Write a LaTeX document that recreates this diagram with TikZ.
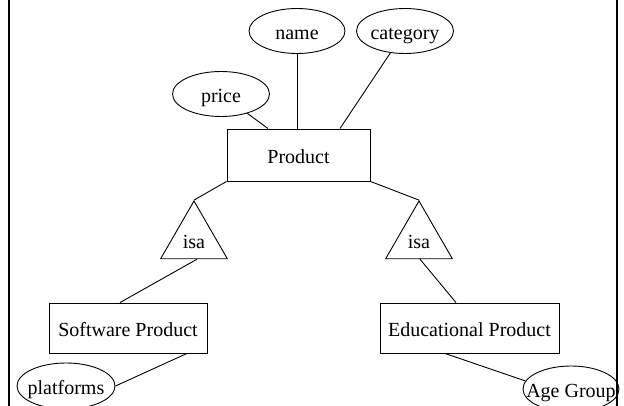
\documentclass[tikz,border=0pt]{standalone}
\usepackage{fontspec}
\setmainfont{Liberation Serif}
\usetikzlibrary{shapes.geometric}
\newcommand\zw[1]{\makebox[0pt]{#1}}
\tikzset{
  base/.style={draw, line width=0.9pt, inner sep=0pt, font=\fontsize{20}{24}\selectfont, text height=17pt, text depth=0pt},
  ent/.style={base, rectangle, minimum height=50pt},
  attr/.style={base, ellipse, minimum width=97pt, minimum height=45pt},
  isa/.style={base, regular polygon, regular polygon sides=3, minimum size=77pt},
  conn/.style={line width=0.9pt},
  frame/.style={line width=2pt}
}
\begin{document}
\begin{tikzpicture}[x=1pt,y=-1pt]
\useasboundingbox (0,0) rectangle (624,406);
\fill[white] (0,0) rectangle (624,406);
\clip (0,0) rectangle (624,406);
\draw[frame] (9,-2) -- (9,410);
\draw[frame] (617,-2) -- (617,410);

\node[ent, minimum width=143pt, minimum height=52pt] (p) at (298.5,155) {Product};
\node[attr, minimum width=96pt] (nm) at (297,31) {\zw{name}};
\node[attr] (ca) at (405,31) {\zw{category}};
\node[attr] (pr) at (221,94) {\zw{price}};
\node[isa] (t1) at (194,239.5) {isa};
\node[isa] (t2) at (419,239.5) {isa};
\node[ent, minimum width=158pt] (sp) at (128,328) {Software Product};
\node[ent, minimum width=179pt] (ep) at (469.5,328) {Educational Product};
\node[attr, minimum width=98pt, minimum height=46pt] (pf) at (66,386) {\zw{platforms}};
\node[attr, minimum width=96pt, minimum height=46pt] (ag) at (571,389) {\zw{Age Group}};

\draw[conn] (pr) -- ([xshift=-30.5pt]p.north);
\draw[conn] (nm) -- (nm |- p.north);
\draw[conn] (ca) -- ([xshift=41.5pt]p.north);
\draw[conn] (p.south west) -- (t1.corner 1);
\draw[conn] (p.south east) -- (t2.corner 1);
\draw[conn] ([xshift=3pt]t1.south) -- ([xshift=-8pt]sp.north);
\draw[conn] ([xshift=1pt]t2.south) -- ([xshift=-13.5pt]ep.north);
\draw[conn] ([xshift=59pt]sp.south) -- (pf.east);
\draw[conn] ([xshift=-24.5pt]ep.south) -- (ag.170);
\end{tikzpicture}
\end{document}
